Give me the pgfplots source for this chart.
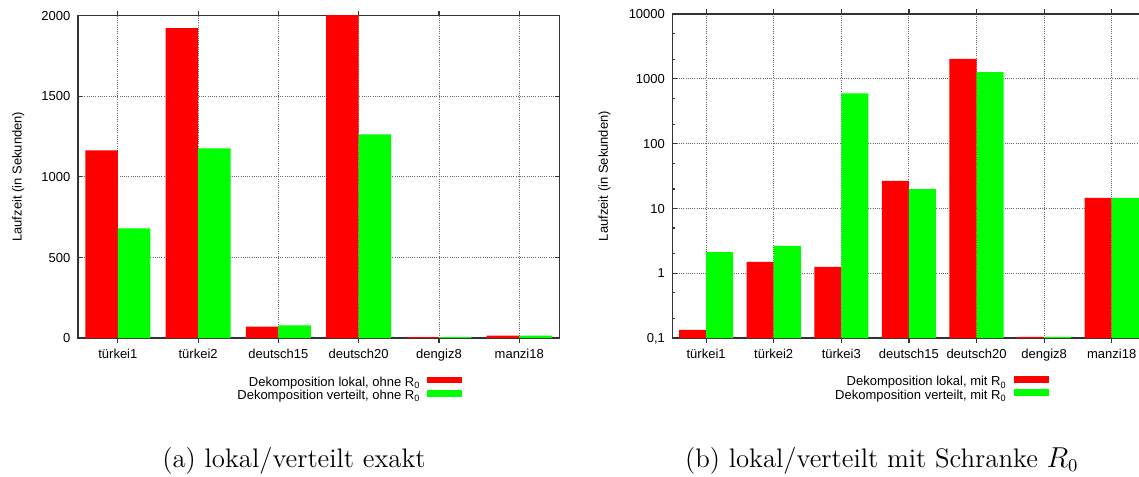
\documentclass[border=0pt]{standalone}
\usepackage{fontspec}
\usepackage{pgfplots}
\usepackage{pgfplotstable}
\pgfplotsset{compat=1.18}
\newfontfamily\plotfont{Liberation Sans}
\definecolor{gred}{RGB}{255,0,0}
\definecolor{ggreen}{RGB}{0,255,0}

\pgfplotstableread{
x lok ver
0 1164 680
1 1921 1176
2 71 78
3 2022 1263
4 6 5
5 14 14
}\lefttab

\pgfplotstableread{
x lok ver
0 0.133 2.12
1 1.49 2.63
2 1.25 597
3 26.5 19.9
4 2022 1273
5 0.104 0.104
6 14.5 14.5
}\righttab

\pgfplotsset{
  gp/.style={
    scale only axis,
    axis line style={black!80, line width=0.8pt},
    tick style={black!80, line width=0.6pt},
    major tick length=2.3pt,
    minor tick length=1.2pt,
    tick align=inside,
    tick pos=both,
    grid=major,
    major grid style={black!60, line width=0.45pt, dash pattern=on 0.5pt off 0.6pt},
    ybar,
    tick label style={font=\plotfont\fontsize{6.5}{7.8}\selectfont, inner sep=0pt},
    xticklabel style={anchor=base, yshift=-8pt},
    yticklabel style={anchor=base east, xshift=-3.5pt, yshift=-2.33pt},
    label style={font=\plotfont\fontsize{6.5}{7.8}\selectfont},
    legend plot pos=right,
    legend cell align=right,
    legend style={draw=none, fill=none, inner sep=0pt, outer sep=0pt, row sep=0pt, column sep=3.5pt,
      font=\plotfont\fontsize{6.5}{7.8}\selectfont,
      nodes={inner sep=0pt, text height=4.8pt, text depth=1.7pt}},
    legend image code/.code={\fill[##1] (0pt,0pt) rectangle (17.5pt,3.35pt);},
    ylabel={Laufzeit (in Sekunden)},
  }
}

\begin{document}
\begin{tikzpicture}
\begin{axis}[gp,
  at={(38.85pt,-169pt)}, anchor=south west,
  width=240.85pt, height=161.25pt,
  xmin=-0.5, xmax=5.5, ymin=0, ymax=2000,
  bar width=0.405,
  xtick={0,...,5},
  xticklabels={türkei1,türkei2,deutsch15,deutsch20,dengiz8,manzi18},
  ytick={0,500,1000,1500,2000},
  yticklabels={0,500,1000,1500,2000},
  ylabel style={at={(axis description cs:-0.1233,0.5)}, anchor=center},
  legend style={at={(axis description cs:0.7988,-0.1199)}, anchor=north east},
]
\addplot[fill=gred, draw=none, bar shift=-0.2025] table[x=x,y=lok]{\lefttab};
\addlegendentry{Dekomposition lokal, ohne R\textsubscript{0}}
\addplot[fill=ggreen, draw=none, bar shift=0.2025] table[x=x,y=ver]{\lefttab};
\addlegendentry{Dekomposition verteilt, ohne R\textsubscript{0}}
\end{axis}

\begin{axis}[gp,
  at={(336.15pt,-169pt)}, anchor=south west,
  width=236.6pt, height=162pt,
  xmin=-0.5, xmax=6.5,
  ymode=log, log origin y=infty,
  ymin=0.1, ymax=10000,
  bar width=0.4,
  xtick={0,...,6},
  xticklabels={türkei1,türkei2,türkei3,deutsch15,deutsch20,dengiz8,manzi18},
  ytick={0.1,1,10,100,1000,10000},
  yticklabels={{0,1},1,10,100,1000,10000},
  minor ytick={0.2,0.5,2,5,20,50,200,500,2000,5000},
  ylabel style={at={(axis description cs:-0.1435,0.5)}, anchor=center},
  legend style={at={(axis description cs:0.7954,-0.1176)}, anchor=north east},
]
\addplot[fill=gred, draw=none, bar shift=-0.2] table[x=x,y=lok]{\righttab};
\addlegendentry{Dekomposition lokal, mit R\textsubscript{0}}
\addplot[fill=ggreen, draw=none, bar shift=0.2] table[x=x,y=ver]{\righttab};
\addlegendentry{Dekomposition verteilt, mit R\textsubscript{0}}
\end{axis}

\node[font=\fontsize{13.4}{15}\selectfont, anchor=base, inner sep=0pt] at (147pt,-233.5pt) {(a) lokal/verteilt exakt};
\node[font=\fontsize{13.4}{15}\selectfont, anchor=base, inner sep=0pt] at (440.85pt,-233.5pt) {(b) lokal/verteilt mit Schranke $R_0$};

\pgfresetboundingbox
\path[use as bounding box] (0pt,0pt) rectangle (569.5pt,-238pt);
\end{tikzpicture}
\end{document}
